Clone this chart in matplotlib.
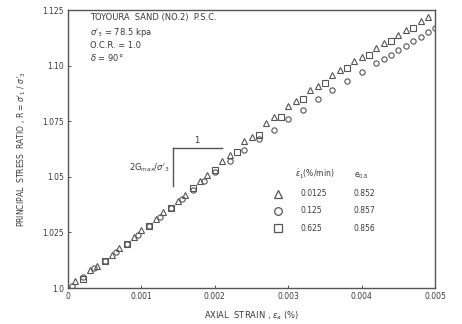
import matplotlib
matplotlib.use('Agg')
import matplotlib.pyplot as plt

# rate 0.0125 %/min (triangles)
tri_strain = [0.0000, 0.0001, 0.0003, 0.0004, 0.0006, 0.0007, 0.0009, 0.0010, 0.0012,
              0.0013, 0.0015, 0.0016, 0.0018, 0.0019, 0.0021, 0.0022, 0.0024, 0.0025,
              0.0027, 0.0028, 0.0030, 0.0031, 0.0033, 0.0034, 0.0036, 0.0037, 0.0039,
              0.0040, 0.0042, 0.0043, 0.0045, 0.0046, 0.0048, 0.0049]
tri_R = [1.000, 1.003, 1.008, 1.010, 1.015, 1.018, 1.023, 1.026, 1.031,
         1.034, 1.039, 1.042, 1.048, 1.051, 1.057, 1.060, 1.066, 1.068,
         1.074, 1.077, 1.082, 1.084, 1.089, 1.091, 1.096, 1.098, 1.102,
         1.104, 1.108, 1.110, 1.114, 1.116, 1.120, 1.122]

# rate 0.125 %/min (circles)
cir_strain = [0.00005, 0.0002, 0.00035, 0.0005, 0.00065, 0.0008, 0.00095, 0.0011, 0.00125,
              0.0014, 0.00155, 0.0017, 0.00185, 0.0020, 0.0022, 0.0024, 0.0026, 0.0028,
              0.0030, 0.0032, 0.0034, 0.0036, 0.0038, 0.0040, 0.0042, 0.0043, 0.0044,
              0.0045, 0.0046, 0.0047, 0.0048, 0.0049, 0.0050]
cir_R = [1.001, 1.005, 1.009, 1.012, 1.016, 1.020, 1.024, 1.028, 1.032,
         1.036, 1.040, 1.044, 1.048, 1.052, 1.057, 1.062, 1.067, 1.071,
         1.076, 1.080, 1.085, 1.089, 1.093, 1.097, 1.101, 1.103, 1.105,
         1.107, 1.109, 1.111, 1.113, 1.115, 1.117]

# rate 0.625 %/min (squares)
sq_strain = [0.0002, 0.0005, 0.0008, 0.0011, 0.0014, 0.0017, 0.0020, 0.0023, 0.0026,
             0.0029, 0.0032, 0.0035, 0.0038, 0.0041, 0.0044, 0.0047]
sq_R = [1.004, 1.012, 1.020, 1.028, 1.036, 1.045, 1.053, 1.061, 1.069,
        1.077, 1.085, 1.092, 1.099, 1.105, 1.111, 1.117]

legend_rates = ['0.0125', '0.125', '0.625']
legend_e = ['0.852', '0.857', '0.856']
legend_markers = ['^', 'o', 's']

xticks = [0, 0.001, 0.002, 0.003, 0.004, 0.005]
xtick_labels = ['0', '0.001', '0.002', '0.003', '0.004', '0.005']
yticks = [1.0, 1.025, 1.05, 1.075, 1.10, 1.125]
ytick_labels = ['1.0', '1.025', '1.05', '1.075', '1.10', '1.125']

ink = '#555555'
txt = '#3a3a3a'

fig = plt.figure(figsize=(4.62, 3.24), dpi=100)
ax = fig.add_axes([0.147, 0.111, 0.795, 0.858])

mk = dict(linestyle='none', markerfacecolor='none', markeredgecolor=ink,
          markeredgewidth=0.8, markersize=3.8)
ax.plot(cir_strain, cir_R, marker='o', **mk)
ax.plot(sq_strain, sq_R, marker='s', **mk)
ax.plot(tri_strain, tri_R, marker='^', **mk)

ax.set_xlim(0, 0.005)
ax.set_ylim(1.0, 1.125)
ax.set_xticks(xticks)
ax.set_xticklabels(xtick_labels)
ax.set_yticks(yticks)
ax.set_yticklabels(ytick_labels)
ax.tick_params(direction='in', length=2, width=0.6, labelsize=5.5,
               colors=txt, pad=3)
for s in ax.spines.values():
    s.set_color(ink)
    s.set_linewidth(1.0)

ax.set_xlabel(r"AXIAL  STRAIN , $\varepsilon_a$ (%)", fontsize=6, color=txt, labelpad=6)
ax.set_ylabel(r"PRINCIPAL  STRESS  RATIO , R = $\sigma'_1$ / $\sigma'_3$",
              fontsize=5.5, color=txt, labelpad=10)

# test conditions
ax.text(0.0003, 1.1205, "TOYOURA  SAND (NO.2)  P.S.C.", fontsize=6, color=txt)
ax.text(0.0003, 1.114, r"$\sigma'_3$ = 78.5 kpa", fontsize=6, color=txt)
ax.text(0.0003, 1.108, "O.C.R. = 1.0", fontsize=6, color=txt)
ax.text(0.0003, 1.102, r"$\delta$ = 90°", fontsize=6, color=txt)

# slope triangle
ax.plot([0.00143, 0.0021], [1.063, 1.063], color=ink, lw=1.0)
ax.plot([0.00143, 0.00143], [1.063, 1.046], color=ink, lw=1.0)
ax.text(0.00176, 1.065, "1", fontsize=6, color=txt, ha='center')
ax.text(0.00139, 1.054, r"2G$_{max}$/$\sigma'_3$", fontsize=6, color=txt, ha='right',
        va='center')

# legend table
ax.text(0.00309, 1.0495, r"$\dot{\varepsilon}_1$(%/min)", fontsize=5.5, color=txt)
ax.text(0.00389, 1.0495, r"e$_{0.8}$", fontsize=5.5, color=txt)
for i in range(len(legend_rates)):
    yy = 1.0425 - i * 0.0078
    ax.plot([0.00286], [yy], marker=legend_markers[i], markersize=5.5,
            markerfacecolor='none', markeredgecolor=ink, markeredgewidth=0.9)
    ax.text(0.00317, yy, legend_rates[i], fontsize=5.5, color=txt, va='center')
    ax.text(0.00389, yy, legend_e[i], fontsize=5.5, color=txt, va='center')

fig.savefig('out.png', dpi=100)
